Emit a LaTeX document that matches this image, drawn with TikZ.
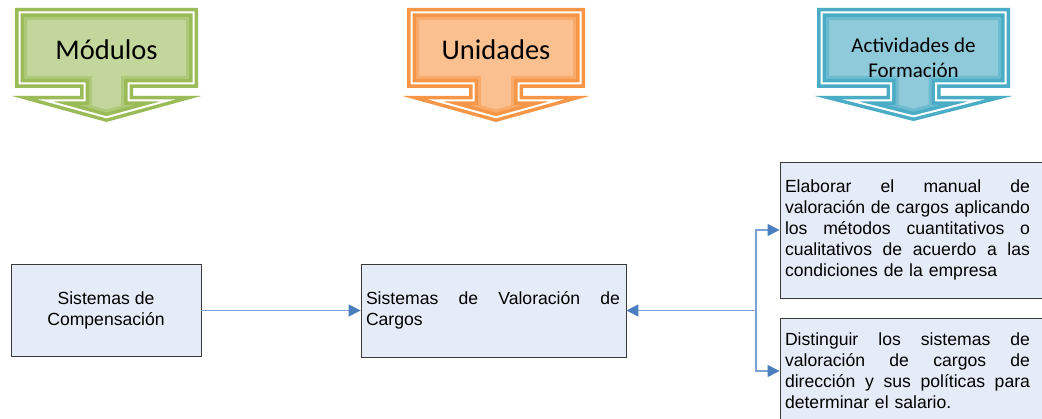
\documentclass[tikz,border=0pt]{standalone}
\usepackage{fontspec}
\setmainfont{Liberation Sans}
\newfontfamily\calibri{Carlito}
\usetikzlibrary{arrows.meta}
\definecolor{gLight}{HTML}{C3D69B}
\definecolor{gDark}{HTML}{9BBB59}
\definecolor{gMid}{HTML}{AFC97A}
\definecolor{oLight}{HTML}{FAC090}
\definecolor{oDark}{HTML}{F79646}
\definecolor{oMid}{HTML}{F9AB6B}
\definecolor{bLight}{HTML}{8FCADB}
\definecolor{bDark}{HTML}{4BACC6}
\definecolor{bMid}{HTML}{6DBBD1}
\definecolor{boxFill}{HTML}{E6ECF7}
\definecolor{boxLine}{HTML}{3A3A3A}
\definecolor{lineBlue}{HTML}{7EA1D6}
\definecolor{tipBlue}{HTML}{4A7EBF}
\tikzset{
  bshape/.style n args={4}{insert path={(-#1,12.5) -- (#1,12.5) -- (#1,83.5) -- (#2,83.5) -- (#2,100.5) -- (#3,100.5) -- (0,#4) -- (-#3,100.5) -- (-#2,100.5) -- (-#2,83.5) -- (-#1,83.5) -- cycle}},
  box/.style={draw=boxLine, fill=boxFill, line width=0.9pt, inner xsep=5pt, inner ysep=0pt, font=\fontsize{17.6}{21}\selectfont},
  conn/.style={draw=lineBlue, line width=1.3pt, -{Triangle[length=12pt,width=12pt,color=tipBlue]}},
  bigtitle/.style={font=\calibri\fontsize{28.5}{34}\selectfont, anchor=base, inner sep=0pt},
  smalltitle/.style={font=\calibri\fontsize{21}{25}\selectfont, align=center, inner sep=0pt}
}
\newcommand\jl[2][245pt]{\makebox[#1][l]{#2}}
\newcommand\bannerdraw[6]{%
  \begin{scope}[xshift=#1pt]
    \fill[#6Light, bshape={#2}{#3}{#4}{#5}];
    \begin{scope}
      \clip[bshape={#2}{#3}{#4}{#5}];
      \draw[#6Mid, line width=15pt, bshape={#2}{#3}{#4}{#5}];
    \end{scope}
    \draw[#6Dark, line width=9pt, bshape={#2}{#3}{#4}{#5}];
    \draw[white, line width=2pt, bshape={#2}{#3}{#4}{#5}];
  \end{scope}}
\begin{document}
\begin{tikzpicture}[x=1pt, y=-1pt]
\useasboundingbox (0,0) rectangle (1042,419);
% banners
\bannerdraw{106.5}{87}{22}{61.2}{117.3}{g}
\bannerdraw{496}{84.5}{22.5}{60.5}{117.3}{o}
\bannerdraw{913.5}{92}{22.5}{62.8}{116.4}{b}
\node[bigtitle] (mod) at (106.5,60) {Módulos};
\node[bigtitle] (uni) at (496,60) {Unidades};
\node[smalltitle] (act) at (913.5,57.5) {Actividades de\\Formación};
% boxes
\node[box, minimum width=190pt, minimum height=92pt, align=center] (b1) at (106,310.5) {Sistemas de\\Compensación};
\node[box, minimum height=93pt, text width=255pt, align=left] (b2) at (493.5,310.5) {\jl[254pt]{Sistemas\hfill de\hfill Valoración\hfill de}\\Cargos};
\node[box, minimum height=136pt, text width=256pt, align=left] (b3) at (913,230) {\jl{Elaborar\hfill el\hfill manual\hfill de}\\\jl{valoración\hfill de\hfill cargos\hfill aplicando}\\\jl{los\hfill métodos\hfill cuantitativos\hfill o}\\\jl{cualitativos\hfill de\hfill acuerdo\hfill a\hfill las}\\condiciones de la empresa};
\node[box, minimum height=106pt, text width=256pt, align=left] (b4) at (913,371) {\jl{Distinguir\hfill los\hfill sistemas\hfill de}\\\jl{valoración\hfill de\hfill cargos\hfill de}\\\jl{dirección\hfill y\hfill sus\hfill políticas\hfill para}\\determinar el salario.};
% connectors
\coordinate (j) at (756,310.5);
\draw[conn] (b1.east) -- (b2.west);
\draw[conn] (j) -- (b2.east);
\draw[conn] (j) |- (b3.west);
\draw[conn] (j) |- (b4.west);
\end{tikzpicture}
\end{document}
